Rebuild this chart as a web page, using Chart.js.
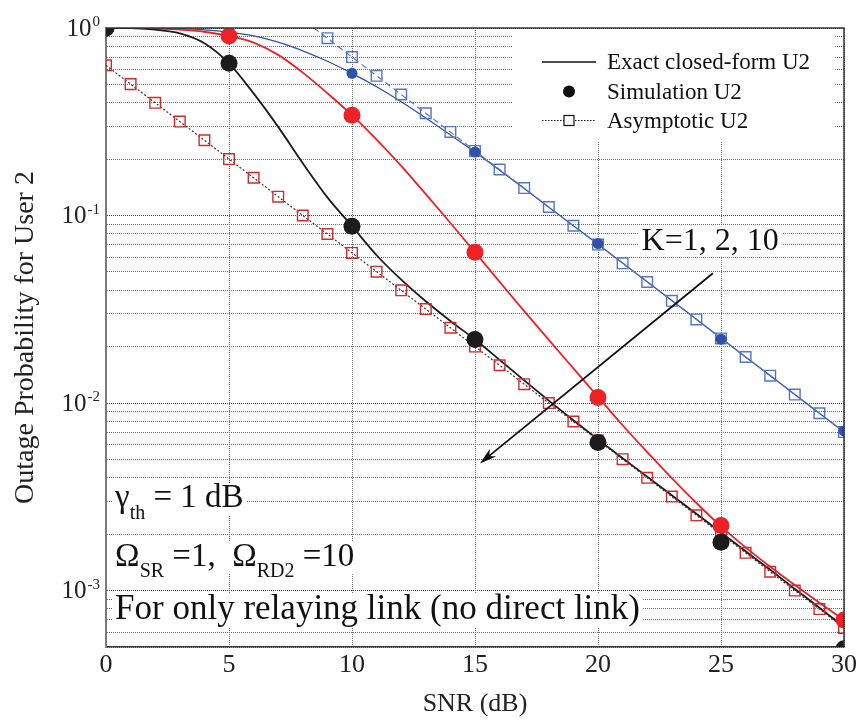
<!DOCTYPE html>
<html>
<head>
<meta charset="utf-8">
<title>Outage Probability for User 2</title>
<script src="https://cdn.jsdelivr.net/npm/chart.js@4.4.1/dist/chart.umd.min.js"></script>
<style>
  html, body { margin: 0; padding: 0; background: #fff; }
</style>
</head>
<body>
<canvas id="chart" width="860" height="722"></canvas>
<script>
// SNR grid (dB)
const snr = [0, 1, 2, 3, 4, 5, 6, 7, 8, 9, 10, 11, 12, 13, 14, 15, 16, 17, 18, 19, 20,
  21, 22, 23, 24, 25, 26, 27, 28, 29, 30];
const simSnr = [0, 5, 10, 15, 20, 25, 30];

// Exact closed-form curves
const exactK1 = [1.0, 0.999, 0.997, 0.992, 0.978, 0.95, 0.907, 0.841, 0.756, 0.665, 0.573,
  0.486, 0.404, 0.331, 0.269, 0.218, 0.1745, 0.1392, 0.1108, 0.0882, 0.0703,
  0.0558, 0.0443, 0.0352, 0.0280, 0.0222, 0.0176, 0.0140, 0.0111, 0.00883, 0.00701];
const exactK2 = [1.0, 0.998, 0.992, 0.98, 0.955, 0.906, 0.836, 0.719, 0.578, 0.449, 0.343,
  0.254, 0.184, 0.130, 0.0912, 0.0637, 0.0443, 0.0309, 0.0217, 0.0153, 0.0108,
  0.00761, 0.00547, 0.00398, 0.00293, 0.0022, 0.0017, 0.00134, 0.00107, 0.00086, 0.000696];
const exactK10 = [1.0, 0.998, 0.98, 0.937, 0.83, 0.648, 0.448, 0.297, 0.19, 0.125, 0.0877,
  0.0614, 0.0455, 0.0349, 0.0274, 0.0218, 0.0170, 0.0132, 0.0103, 0.0081, 0.0064,
  0.00508, 0.00405, 0.00322, 0.00257, 0.00204, 0.00162, 0.00129, 0.00102, 0.00081, 0.00064];

// Simulation points
const simK1 = [1.0, 0.95, 0.573, 0.218, 0.0709, 0.0219, 0.0071];
const simK2 = [1.0, 0.906, 0.343, 0.0637, 0.0107, 0.00222, 0.000697];
const simK10 = [1.0, 0.648, 0.0877, 0.0218, 0.00616, 0.00181, 0.00049];

// Asymptotic curves
const asymK2K10 = [0.632, 0.502, 0.399, 0.317, 0.252, 0.200, 0.159, 0.126, 0.100, 0.0797, 0.0632,
  0.0502, 0.0399, 0.0317, 0.0252, 0.0200, 0.0159, 0.0126, 0.0100, 0.00797, 0.00632,
  0.00502, 0.00399, 0.00317, 0.00252, 0.00200, 0.00159, 0.00126, 0.00100, 0.000797, 0.000632];
const asymK1Snr = [8.45, 9, 10, 11, 12, 13, 14, 15, 16, 17, 18, 19, 20, 21, 22, 23, 24, 25, 26, 27, 28, 29, 30];
const asymK1 = [1.0, 0.882, 0.700, 0.556, 0.442, 0.351, 0.279, 0.221, 0.176, 0.140, 0.111, 0.0882,
  0.0700, 0.0556, 0.0442, 0.0351, 0.0279, 0.0221, 0.0176, 0.0140, 0.0111, 0.00882, 0.00700];

// Axes
const xTicks = [0, 5, 10, 15, 20, 25, 30];
const yDecades = [1, 0.1, 0.01, 0.001];
const yDecadeExp = ['0', '-1', '-2', '-3'];
const yMin = 5e-4;
const yMax = 1;

const legendLabels = ['Exact closed-form U2', 'Simulation U2', 'Asymptotic U2'];
const notes = [
  { x: 0.37, y: 0.00278, size: 33, runs: [{ t: 'γ' }, { t: 'th', sub: true }, { t: ' = 1 dB' }] },
  { x: 0.37, y: 0.00136, size: 33, runs: [{ t: 'Ω' }, { t: 'SR', sub: true }, { t: ' =1,  Ω' }, { t: 'RD2', sub: true }, { t: ' =10' }] },
  { x: 0.37, y: 0.000708, size: 35, runs: [{ t: 'For only relaying link (no direct link)' }] }
];
const kLabel = { x: 21.77, y: 0.0653, text: 'K=1, 2, 10' };
const arrow = { from: [24.67, 0.0492], to: [15.2, 0.00476] };

const serif = "'Liberation Serif', 'Times New Roman', serif";
const colors = {
  black: '#1c1c1c',
  red: '#ec2227',
  blue: '#2f51a7',
  redSquare: '#d02a2e',
  blueSquare: '#5474c4',
  asymLine: '#4a2a2a',
  grid: '#6e6e6e'
};

const pts = (xs, ys) => xs.map((x, i) => ({ x, y: ys[i] }));

// minor + major grid lines on the log axis
const yGrid = [];
[1e-4, 1e-3, 1e-2, 1e-1].forEach(d => {
  for (let m = 1; m <= 9; m++) {
    const v = m * d;
    if (v >= yMin - 1e-12 && v <= yMax + 1e-12) yGrid.push(v);
  }
});
yGrid.push(1);

const isDecade = v => Math.abs(Math.log10(v) - Math.round(Math.log10(v))) < 1e-9;

function richWidth(ctx, runs, size) {
  let w = 0;
  runs.forEach(r => {
    ctx.font = `${r.sub ? Math.round(size * 0.6) : size}px ${serif}`;
    w += ctx.measureText(r.t).width;
  });
  return w;
}

function drawRich(ctx, runs, x, y, size) {
  let cx = x;
  ctx.textAlign = 'left';
  ctx.textBaseline = 'alphabetic';
  runs.forEach(r => {
    ctx.font = `${r.sub ? Math.round(size * 0.6) : size}px ${serif}`;
    ctx.fillText(r.t, cx, r.sub ? y + size * 0.36 : y);
    cx += ctx.measureText(r.t).width;
  });
}

const kSize = 32;

const overlay = {
  id: 'overlay',
  beforeDatasetsDraw(chart) {
    const { ctx, chartArea: ca, scales: { x, y } } = chart;
    ctx.save();
    ctx.fillStyle = '#fff';
    // legend patch
    ctx.fillRect(ca.right - 332, ca.top + 2, 323, 112);
    // note patches
    notes.forEach(n => {
      const px = x.getPixelForValue(n.x);
      const py = y.getPixelForValue(n.y);
      const w = richWidth(ctx, n.runs, n.size);
      ctx.fillRect(px - 3, py - n.size * 0.72, w + 6, n.size * 0.98);
    });
    ctx.font = `${kSize}px ${serif}`;
    const kw = ctx.measureText(kLabel.text).width;
    const kx = x.getPixelForValue(kLabel.x);
    const ky = y.getPixelForValue(kLabel.y);
    ctx.fillRect(kx - 3, ky - kSize * 0.75, kw + 6, kSize * 0.95);
    ctx.restore();
  },
  afterDraw(chart) {
    const { ctx, chartArea: ca, scales: { x, y } } = chart;
    ctx.save();

    // top and right frame
    ctx.strokeStyle = '#333';
    ctx.lineWidth = 1.5;
    ctx.beginPath();
    ctx.moveTo(ca.left, ca.top);
    ctx.lineTo(ca.right, ca.top);
    ctx.lineTo(ca.right, ca.bottom);
    ctx.stroke();

    // y tick labels 10^n
    ctx.fillStyle = '#222';
    yDecades.forEach((v, i) => {
      const py = y.getPixelForValue(v);
      const xr = ca.left - 6;
      ctx.font = `15px ${serif}`;
      const ew = ctx.measureText(yDecadeExp[i]).width;
      ctx.textAlign = 'left';
      ctx.textBaseline = 'alphabetic';
      ctx.fillText(yDecadeExp[i], xr - ew, py - 2);
      ctx.font = `25px ${serif}`;
      ctx.textAlign = 'right';
      ctx.textBaseline = 'middle';
      ctx.fillText('10', xr - ew - 1, py + 1);
    });

    // notes
    ctx.fillStyle = '#111';
    notes.forEach(n => {
      drawRich(ctx, n.runs, x.getPixelForValue(n.x), y.getPixelForValue(n.y), n.size);
    });
    ctx.font = `${kSize}px ${serif}`;
    ctx.textAlign = 'left';
    ctx.textBaseline = 'alphabetic';
    ctx.fillText(kLabel.text, x.getPixelForValue(kLabel.x), y.getPixelForValue(kLabel.y));

    // arrow
    const ax0 = x.getPixelForValue(arrow.from[0]);
    const ay0 = y.getPixelForValue(arrow.from[1]);
    const ax1 = x.getPixelForValue(arrow.to[0]);
    const ay1 = y.getPixelForValue(arrow.to[1]);
    const ang = Math.atan2(ay1 - ay0, ax1 - ax0);
    ctx.strokeStyle = '#111';
    ctx.fillStyle = '#111';
    ctx.lineWidth = 1.8;
    ctx.beginPath();
    ctx.moveTo(ax0, ay0);
    ctx.lineTo(ax1 - 10 * Math.cos(ang), ay1 - 10 * Math.sin(ang));
    ctx.stroke();
    ctx.beginPath();
    ctx.moveTo(ax1, ay1);
    ctx.lineTo(ax1 - 17 * Math.cos(ang) + 5 * Math.sin(ang), ay1 - 17 * Math.sin(ang) - 5 * Math.cos(ang));
    ctx.lineTo(ax1 - 12 * Math.cos(ang), ay1 - 12 * Math.sin(ang));
    ctx.lineTo(ax1 - 17 * Math.cos(ang) - 5 * Math.sin(ang), ay1 - 17 * Math.sin(ang) + 5 * Math.cos(ang));
    ctx.closePath();
    ctx.fill();

    // legend
    const lx0 = ca.right - 302;
    const lx1 = ca.right - 248;
    const lxm = (lx0 + lx1) / 2;
    const tx = ca.right - 237;
    const rows = [ca.top + 34, ca.top + 63.5, ca.top + 92.5];
    ctx.strokeStyle = '#111';
    ctx.lineWidth = 1.5;
    ctx.beginPath();
    ctx.moveTo(lx0, rows[0]);
    ctx.lineTo(lx1, rows[0]);
    ctx.stroke();
    ctx.beginPath();
    ctx.arc(lxm, rows[1], 6, 0, Math.PI * 2);
    ctx.fill();
    ctx.lineWidth = 1;
    ctx.setLineDash([1.5, 1.5]);
    ctx.beginPath();
    ctx.moveTo(lx0, rows[2]);
    ctx.lineTo(lx1, rows[2]);
    ctx.stroke();
    ctx.setLineDash([]);
    ctx.fillStyle = '#fff';
    ctx.fillRect(lxm - 5, rows[2] - 5, 10, 10);
    ctx.lineWidth = 1.2;
    ctx.strokeRect(lxm - 5, rows[2] - 5, 10, 10);
    ctx.fillStyle = '#111';
    ctx.font = `23px ${serif}`;
    ctx.textAlign = 'left';
    ctx.textBaseline = 'middle';
    legendLabels.forEach((t, i) => ctx.fillText(t, tx, rows[i] + 1));

    ctx.restore();
  }
};

const circle = (data, color, r) => ({
  data,
  showLine: false,
  pointStyle: 'circle',
  pointRadius: r,
  pointBackgroundColor: color,
  pointBorderColor: color,
  pointBorderWidth: 0
});

const curve = (data, color, w) => ({
  data,
  borderColor: color,
  borderWidth: w,
  pointRadius: 0,
  fill: false,
  cubicInterpolationMode: 'monotone'
});

new Chart(document.getElementById('chart'), {
  type: 'line',
  data: {
    datasets: [
      circle(pts(simSnr, simK10), colors.black, 8.5),
      circle(pts(simSnr, simK2), colors.red, 8.5),
      circle(pts(simSnr, simK1), colors.blue, 5.5),
      {
        data: pts(snr, asymK2K10),
        borderColor: colors.asymLine,
        borderWidth: 1.2,
        borderDash: [2, 2],
        pointStyle: 'rect',
        pointRadius: 7.5,
        pointBorderWidth: 1.4,
        pointBorderColor: colors.redSquare,
        pointBackgroundColor: 'rgba(255,255,255,0)'
      },
      {
        data: pts(asymK1Snr, asymK1),
        borderColor: colors.blueSquare,
        borderWidth: 1.2,
        borderDash: [6, 4],
        pointStyle: 'rect',
        pointRadius: ctx => (ctx.dataIndex === 0 ? 0 : 7.5),
        pointBorderWidth: 1.4,
        pointBorderColor: colors.blueSquare,
        pointBackgroundColor: 'rgba(255,255,255,0)'
      },
      curve(pts(snr, exactK10), colors.black, 1.8),
      curve(pts(snr, exactK2), colors.red, 1.8),
      curve(pts(snr, exactK1), colors.blue, 1.3)
    ]
  },
  options: {
    responsive: false,
    animation: false,
    layout: { padding: { top: 28, right: 16, left: 0, bottom: 0 } },
    plugins: {
      legend: { display: false },
      tooltip: { enabled: false }
    },
    scales: {
      x: {
        type: 'linear',
        min: 0,
        max: 30,
        afterBuildTicks: s => { s.ticks = xTicks.map(v => ({ value: v })); },
        afterFit: s => { s.height = 75; },
        ticks: { font: { family: serif, size: 26 }, color: '#222', padding: 3, maxRotation: 0 },
        grid: { color: colors.grid, lineWidth: 1, drawTicks: false },
        border: { color: '#333', width: 1.5, dash: [1, 1] },
        title: {
          display: true,
          text: 'SNR (dB)',
          font: { family: serif, size: 26 },
          color: '#222',
          padding: { top: 0, bottom: 2 }
        }
      },
      y: {
        type: 'logarithmic',
        min: yMin,
        max: yMax,
        afterBuildTicks: s => { s.ticks = yGrid.map(v => ({ value: v, major: isDecade(v) })); },
        afterFit: s => { s.width = 106; },
        ticks: { display: false, autoSkip: false },
        grid: {
          color: ctx => (ctx.tick && ctx.tick.major ? '#444' : colors.grid),
          lineWidth: 1,
          drawTicks: false
        },
        border: { color: '#7a7a7a', width: 2, dash: [1, 1] },
        title: {
          display: true,
          text: 'Outage Probability for User 2',
          font: { family: serif, size: 28 },
          color: '#222',
          padding: { top: 9, bottom: 0 }
        }
      }
    }
  },
  plugins: [overlay]
});
</script>
</body>
</html>
